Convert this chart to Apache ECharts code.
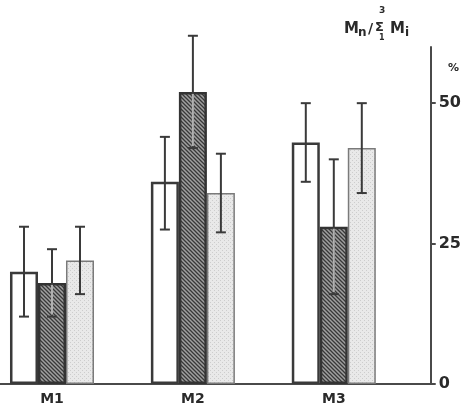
<!DOCTYPE html>
<html>
<head>
<meta charset="utf-8">
<script src="https://cdn.jsdelivr.net/npm/echarts@6/dist/echarts.min.js"></script>
<style>html,body{margin:0;padding:0;background:#fff}#c{width:464px;height:407px}</style>
</head>
<body>
<div id="c"></div>
<script>
var categories = ['M1', 'M2', 'M3'];
var yTicks = [0, 25, 50];
// mean values (%)
var openVals = [20, 36, 43];
var hatchVals = [18, 52, 28];
var dotVals = [22, 34, 42];
// error bar lower / upper
var openLo = [12, 27.5, 36];
var openHi = [28, 44, 50];
var hatchLo = [12, 42, 16];
var hatchHi = [24, 62, 40];
var dotLo = [16, 27, 34];
var dotHi = [28, 41, 50];

function hatchPattern() {
  var c = document.createElement('canvas');
  c.width = 4; c.height = 4;
  var g = c.getContext('2d');
  g.fillStyle = '#a0a0a0';
  g.fillRect(0, 0, 4, 4);
  g.strokeStyle = '#383838';
  g.lineWidth = 1.3;
  g.beginPath();
  g.moveTo(-1, -1); g.lineTo(5, 5);
  g.moveTo(-1, 3); g.lineTo(1, 5);
  g.moveTo(3, -1); g.lineTo(5, 1);
  g.stroke();
  return c;
}
function dotPattern() {
  var c = document.createElement('canvas');
  c.width = 4; c.height = 4;
  var g = c.getContext('2d');
  g.fillStyle = '#e9e9e9';
  g.fillRect(0, 0, 4, 4);
  g.fillStyle = '#cdcdcd';
  g.fillRect(0, 0, 1, 1);
  g.fillRect(2, 2, 1, 1);
  return c;
}

var BW = 28;
function toPts(arr) { return arr.map(function (v, i) { return [i, v]; }); }
function errData(lo, hi, val) { return lo.map(function (l, i) { return [i, l, hi[i], val[i]]; }); }

function errSeries(lo, hi, val, idx, inner) {
  return {
    type: 'custom',
    z: 5,
    data: errData(lo, hi, val),
    encode: { x: 0, y: [1, 2] },
    renderItem: function (params, api) {
      var x = api.value(0);
      var pLo = api.coord([x, api.value(1)]);
      var pHi = api.coord([x, api.value(2)]);
      var pV = api.coord([x, api.value(3)]);
      var cx = pLo[0] + (idx - 1) * BW;
      var cap = 5;
      var st = { stroke: '#3a3a3a', lineWidth: 2 };
      var ch = [
        { type: 'line', shape: { x1: cx, y1: pLo[1], x2: cx, y2: pHi[1] }, style: st },
        { type: 'line', shape: { x1: cx - cap, y1: pHi[1], x2: cx + cap, y2: pHi[1] }, style: st },
        { type: 'line', shape: { x1: cx - cap, y1: pLo[1], x2: cx + cap, y2: pLo[1] }, style: st }
      ];
      if (inner) {
        ch.push({ type: 'line', shape: { x1: cx, y1: pV[1] + 2, x2: cx, y2: pLo[1] - 2 }, style: { stroke: '#b0b0b0', lineWidth: 2 } });
      }
      return { type: 'group', children: ch };
    }
  };
}

var chart = echarts.init(document.getElementById('c'), null, { renderer: 'canvas' });
var font = 'DejaVu Sans';
chart.setOption({
  animation: false,
  grid: { left: 0, right: 33, top: 47, bottom: 23 },
  xAxis: {
    type: 'value', min: -0.369, max: 2.688,
    splitLine: { show: false },
    axisLine: { show: true, onZero: false, lineStyle: { color: '#4a4a4a', width: 2 } },
    axisTick: { show: false },
    axisLabel: {
      customValues: [0, 1, 2],
      formatter: function (v) { return categories[Math.round(v)]; },
      color: '#2a2a2a', fontFamily: font, fontWeight: 'bold', fontSize: 14, margin: 8
    }
  },
  yAxis: {
    type: 'value', min: 0, max: 60, position: 'right',
    splitLine: { show: false },
    axisLine: { show: true, onZero: false, lineStyle: { color: '#4a4a4a', width: 2 } },
    axisTick: { show: true, customValues: yTicks, length: 5, lineStyle: { color: '#4a4a4a', width: 2 } },
    axisLabel: {
      customValues: yTicks,
      color: '#2a2a2a', fontFamily: font, fontWeight: 'bold', fontSize: 16, margin: 8
    }
  },
  series: [
    { type: 'bar', data: toPts(openVals), barWidth: BW, barGap: '0%',
      itemStyle: { color: '#ffffff', borderColor: '#3a3a3a', borderWidth: 2.5 } },
    { type: 'bar', data: toPts(hatchVals), barWidth: BW, barGap: '0%',
      itemStyle: { color: { image: hatchPattern(), repeat: 'repeat' }, borderColor: '#333333', borderWidth: 2.5 } },
    { type: 'bar', data: toPts(dotVals), barWidth: BW, barGap: '0%',
      itemStyle: { color: { image: dotPattern(), repeat: 'repeat' }, borderColor: '#7a7a7a', borderWidth: 1.5 } },
    errSeries(openLo, openHi, openVals, 0, false),
    errSeries(hatchLo, hatchHi, hatchVals, 1, true),
    errSeries(dotLo, dotHi, dotVals, 2, false)
  ],
  graphic: [
    { type: 'text', left: 344, top: 22, style: { text: 'M', font: 'bold 15px DejaVu Sans', fill: '#2a2a2a' } },
    { type: 'text', left: 358, top: 27, style: { text: 'n', font: 'bold 12px DejaVu Sans', fill: '#2a2a2a' } },
    { type: 'text', left: 368, top: 22, style: { text: '/', font: 'bold 14px DejaVu Sans', fill: '#2a2a2a' } },
    { type: 'text', left: 375, top: 21, style: { text: 'Σ', font: 'bold 13px DejaVu Sans', fill: '#2a2a2a' } },
    { type: 'text', left: 379, top: 6, style: { text: '3', font: 'bold 9px DejaVu Sans', fill: '#2a2a2a' } },
    { type: 'text', left: 379, top: 34, style: { text: '1', font: 'bold 8px DejaVu Sans', fill: '#2a2a2a' } },
    { type: 'text', left: 390, top: 22, style: { text: 'M', font: 'bold 15px DejaVu Sans', fill: '#2a2a2a' } },
    { type: 'text', left: 405, top: 27, style: { text: 'i', font: 'bold 12px DejaVu Sans', fill: '#2a2a2a' } },
    { type: 'text', left: 448, top: 63, style: { text: '%', font: 'bold 11px DejaVu Sans', fill: '#2a2a2a' } }
  ]
});
</script>
</body>
</html>
